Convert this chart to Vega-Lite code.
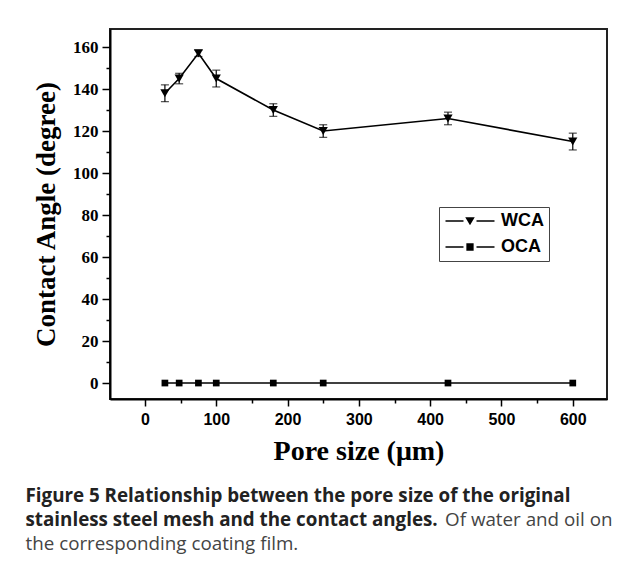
{
  "$schema": "https://vega.github.io/schema/vega-lite/v6.json",
  "width": 497,
  "height": 370,
  "autosize": {"type": "pad"},
  "padding": {"left": 25, "top": 29, "right": 5, "bottom": 5},
  "background": "white",
  "data": {
    "values": [
      {"series": "WCA", "pore": 28, "angle": 138, "err": 4},
      {"series": "WCA", "pore": 48, "angle": 145, "err": 2.5},
      {"series": "WCA", "pore": 75, "angle": 157, "err": 1.5},
      {"series": "WCA", "pore": 100, "angle": 145, "err": 4},
      {"series": "WCA", "pore": 180, "angle": 130, "err": 3},
      {"series": "WCA", "pore": 250, "angle": 120, "err": 3},
      {"series": "WCA", "pore": 425, "angle": 126, "err": 3},
      {"series": "WCA", "pore": 600, "angle": 115, "err": 4},
      {"series": "OCA", "pore": 28, "angle": 0},
      {"series": "OCA", "pore": 48, "angle": 0},
      {"series": "OCA", "pore": 75, "angle": 0},
      {"series": "OCA", "pore": 100, "angle": 0},
      {"series": "OCA", "pore": 180, "angle": 0},
      {"series": "OCA", "pore": 250, "angle": 0},
      {"series": "OCA", "pore": 425, "angle": 0},
      {"series": "OCA", "pore": 600, "angle": 0}
    ]
  },
  "title": {
    "text": ["Figure 5 Relationship between the pore size of the original", "stainless steel mesh and the contact angles."],
    "subtitle": ["\u200b\u00a0\u00a0\u00a0\u00a0\u00a0\u00a0\u00a0\u00a0\u00a0\u00a0\u00a0\u00a0\u00a0\u00a0\u00a0\u00a0\u00a0\u00a0\u00a0\u00a0\u00a0\u00a0\u00a0\u00a0\u00a0\u00a0\u00a0\u00a0\u00a0\u00a0\u00a0\u00a0\u00a0\u00a0\u00a0\u00a0\u00a0\u00a0\u00a0\u00a0\u00a0\u00a0\u00a0\u00a0\u00a0\u00a0\u00a0\u00a0\u00a0\u00a0\u00a0\u00a0\u00a0\u00a0\u00a0\u00a0\u00a0\u00a0\u00a0\u00a0\u00a0\u00a0\u00a0\u00a0\u00a0\u00a0\u00a0\u00a0\u00a0\u00a0\u00a0\u00a0\u00a0\u00a0\u00a0\u00a0\u00a0\u00a0\u00a0\u00a0\u00a0\u00a0\u00a0\u00a0\u00a0\u00a0Of water and oil on", "the corresponding coating film."],
    "orient": "bottom",
    "anchor": "start",
    "frame": "bounds",
    "dx": -7,
    "offset": 22,
    "font": "Open Sans",
    "fontSize": 18.8,
    "fontWeight": "bold",
    "color": "#222222",
    "lineHeight": 24,
    "subtitleFont": "Open Sans",
    "subtitleFontSize": 18.8,
    "subtitleFontWeight": "normal",
    "subtitleColor": "#444444",
    "subtitleLineHeight": 24,
    "subtitlePadding": -19
  },
  "layer": [
    {
      "transform": [{"filter": "datum.series === 'WCA'"}],
      "mark": {"type": "errorbar", "color": "black", "thickness": 1.2, "ticks": {"size": 8, "thickness": 1.2, "color": "black"}},
      "encoding": {
        "x": {"field": "pore", "type": "quantitative", "scale": {"domain": [-49, 648], "nice": false, "zero": false},
          "axis": {"orient": "bottom", "values": [50, 150, 250, 350, 450, 550], "labels": false, "title": null, "domain": false, "grid": false, "tickSize": 4, "tickWidth": 1.5, "tickColor": "black"}},
        "y": {"field": "angle", "type": "quantitative", "scale": {"domain": [-7.6, 168.6], "nice": false, "zero": false},
          "axis": {"orient": "left", "values": [10, 30, 50, 70, 90, 110, 130, 150], "labels": false, "title": null, "domain": false, "grid": false, "tickSize": 4, "tickWidth": 1.5, "tickColor": "black"}},
        "yError": {"field": "err"}
      }
    },
    {
      "mark": {"type": "line", "color": "black", "strokeWidth": 1.6},
      "encoding": {
        "x": {"field": "pore", "type": "quantitative", "scale": {"domain": [-49, 648], "nice": false, "zero": false},
          "axis": {"orient": "bottom", "values": [0, 100, 200, 300, 400, 500, 600], "title": "Pore size (\u03bcm)",
            "titleFont": "Liberation Serif", "titleFontSize": 28, "titleFontWeight": "bold", "titleColor": "black", "titlePadding": 10,
            "labelFont": "Liberation Sans", "labelFontSize": 16, "labelFontWeight": "bold", "labelColor": "black", "labelPadding": 5,
            "tickSize": 7, "tickWidth": 1.5, "tickColor": "black", "domainColor": "black", "domainWidth": 2, "grid": false}},
        "y": {"field": "angle", "type": "quantitative", "scale": {"domain": [-7.6, 168.6], "nice": false, "zero": false},
          "axis": {"orient": "left", "values": [0, 20, 40, 60, 80, 100, 120, 140, 160], "title": "Contact Angle (degree)",
            "titleFont": "Liberation Serif", "titleFontSize": 27, "titleFontWeight": "bold", "titleColor": "black", "titlePadding": 12,
            "labelFont": "Liberation Serif", "labelFontSize": 17, "labelFontWeight": "bold", "labelColor": "black", "labelPadding": 4,
            "tickSize": 8, "tickWidth": 1.5, "tickColor": "black", "domainColor": "black", "domainWidth": 2, "grid": false}},
        "detail": {"field": "series", "type": "nominal"}
      }
    },
    {
      "transform": [{"filter": "datum.series === 'WCA'"}],
      "mark": {"type": "point", "shape": "triangle-down", "filled": true, "color": "black", "opacity": 1, "size": 85},
      "encoding": {
        "x": {"field": "pore", "type": "quantitative", "scale": {"domain": [-49, 648], "nice": false, "zero": false}, "axis": null},
        "y": {"field": "angle", "type": "quantitative", "scale": {"domain": [-7.6, 168.6], "nice": false, "zero": false}, "axis": null}
      }
    },
    {
      "transform": [{"filter": "datum.series === 'OCA'"}],
      "mark": {"type": "point", "shape": "square", "filled": true, "color": "black", "opacity": 1, "size": 45},
      "encoding": {
        "x": {"field": "pore", "type": "quantitative", "scale": {"domain": [-49, 648], "nice": false, "zero": false}, "axis": null},
        "y": {"field": "angle", "type": "quantitative", "scale": {"domain": [-7.6, 168.6], "nice": false, "zero": false}, "axis": null}
      }
    },
    {
      "transform": [{"filter": "datum.pore < 0"}],
      "mark": {"type": "point", "filled": true, "color": "black", "opacity": 1},
      "encoding": {
        "x": {"field": "pore", "type": "quantitative", "scale": {"domain": [-49, 648], "nice": false, "zero": false}, "axis": null},
        "y": {"field": "angle", "type": "quantitative", "scale": {"domain": [-7.6, 168.6], "nice": false, "zero": false}, "axis": null},
        "shape": {"field": "series", "type": "nominal",
          "scale": {"domain": ["WCA", "OCA"], "range": [
            "M-3.5,-0.11L-0.93,-0.11L-0.93,0.11L-3.5,0.11ZM0.93,-0.11L3.5,-0.11L3.5,0.11L0.93,0.11ZM-0.68,-0.55L0.68,-0.55L0,0.62Z",
            "M-3.5,-0.11L-0.93,-0.11L-0.93,0.11L-3.5,0.11ZM0.93,-0.11L3.5,-0.11L3.5,0.11L0.93,0.11ZM-0.52,-0.52L0.52,-0.52L0.52,0.52L-0.52,0.52Z"]},
          "legend": {
            "orient": "none", "legendX": 329, "legendY": 178, "title": null,
            "strokeColor": "#444444", "fillColor": "white", "padding": 5,
            "labelFont": "Liberation Sans", "labelFontSize": 18, "labelFontWeight": "bold", "labelColor": "black",
            "symbolSize": 196, "symbolOffset": 17, "labelOffset": 22, "rowPadding": 8,
            "symbolFillColor": "black", "symbolOpacity": 1,
            "encode": {
              "legend": {"update": {"strokeWidth": {"value": 1.5}}}
            }
          }}
      }
    }
  ],
  "resolve": {"axis": {"x": "independent", "y": "independent"}},
  "config": {
    "view": {"stroke": "#222222", "strokeWidth": 2},
    "axis": {"domainColor": "black"}
  }
}
